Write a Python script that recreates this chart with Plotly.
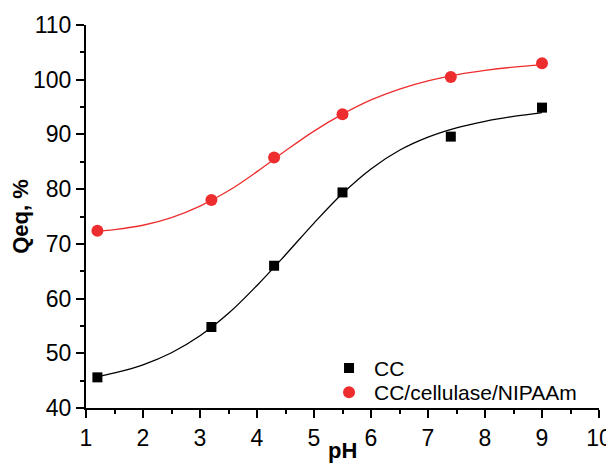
import plotly.graph_objects as go

# Measured data points
ph = [1.2, 3.2, 4.3, 5.5, 7.4, 9.0]
qeq_cc = [45.6, 54.8, 66.0, 79.4, 89.6, 94.9]
qeq_ccn = [72.4, 78.0, 85.8, 93.7, 100.5, 103.0]

# Fitted curves
fit_x = [1.2, 1.5, 2.0, 2.5, 3.0, 3.5, 4.0, 4.5, 5.0, 5.5, 6.0, 6.5, 7.0, 7.5, 8.0, 8.5, 9.0]
fit_cc = [45.7, 46.4, 47.9, 50.1, 53.2, 57.3, 62.4, 68.0, 73.8, 79.2, 83.7, 87.1, 89.5, 91.2, 92.4, 93.3, 94.0]
fit_ccn = [72.3, 72.6, 73.4, 74.8, 76.9, 79.7, 83.2, 87.0, 90.6, 93.7, 96.3, 98.3, 99.8, 100.9, 101.7, 102.3, 102.7]

names = ["CC", "CC/cellulase/NIPAAm"]
x_title = "pH"
y_title = "Qeq, %"
BLACK = "#000000"
RED = "#EE2E2E"

fig = go.Figure()
fig.add_trace(go.Scatter(x=fit_x, y=fit_cc, mode="lines",
                         line=dict(color=BLACK, width=1.3, shape="spline", smoothing=1),
                         showlegend=False, hoverinfo="skip"))
fig.add_trace(go.Scatter(x=fit_x, y=fit_ccn, mode="lines",
                         line=dict(color=RED, width=1.3, shape="spline", smoothing=1),
                         showlegend=False, hoverinfo="skip"))
fig.add_trace(go.Scatter(x=ph, y=qeq_cc, mode="markers", name=names[0], legend="legend",
                         marker=dict(symbol="square", size=10, color=BLACK)))
fig.add_trace(go.Scatter(x=ph, y=qeq_ccn, mode="markers", name=names[1], legend="legend2",
                         marker=dict(symbol="circle", size=12, color=RED)))

axis_common = dict(
    showline=True, linecolor="black", linewidth=2,
    ticks="outside", ticklen=8, tickwidth=2, tickcolor="black",
    showgrid=False, zeroline=False, mirror=False, automargin=False,
    tickfont=dict(family="Liberation Sans, Arial", size=23, color="black"),
)

legend_common = dict(xanchor="left", yanchor="top", bgcolor="rgba(0,0,0,0)", borderwidth=0,
                     font=dict(size=21, color="black"), itemwidth=40)

fig.update_layout(
    width=614, height=465,
    margin=dict(l=78, r=23, t=17, b=65),
    paper_bgcolor="white", plot_bgcolor="white",
    font=dict(family="Liberation Sans, Arial", color="black"),
    xaxis=dict(range=[1, 10], dtick=1, tick0=1,
               minor=dict(dtick=0.5, ticklen=4, tickwidth=2, tickcolor="black", ticks="outside"),
               **axis_common),
    yaxis=dict(range=[40, 110], dtick=10, tick0=40,
               minor=dict(dtick=5, ticklen=4, tickwidth=2, tickcolor="black", ticks="outside"),
               title=dict(text="<b>" + y_title + "</b>", font=dict(size=22), standoff=2),
               **axis_common),
    legend=dict(x=0.464, y=0.157, **legend_common),
    legend2=dict(x=0.464, y=0.094, **legend_common),
    showlegend=True,
    annotations=[dict(text="<b>" + x_title + "</b>", xref="paper", yref="paper",
                      x=0.5, y=-0.072, xanchor="center", yanchor="top", showarrow=False,
                      font=dict(size=22, color="black"))],
)

fig.write_html("out.html")
